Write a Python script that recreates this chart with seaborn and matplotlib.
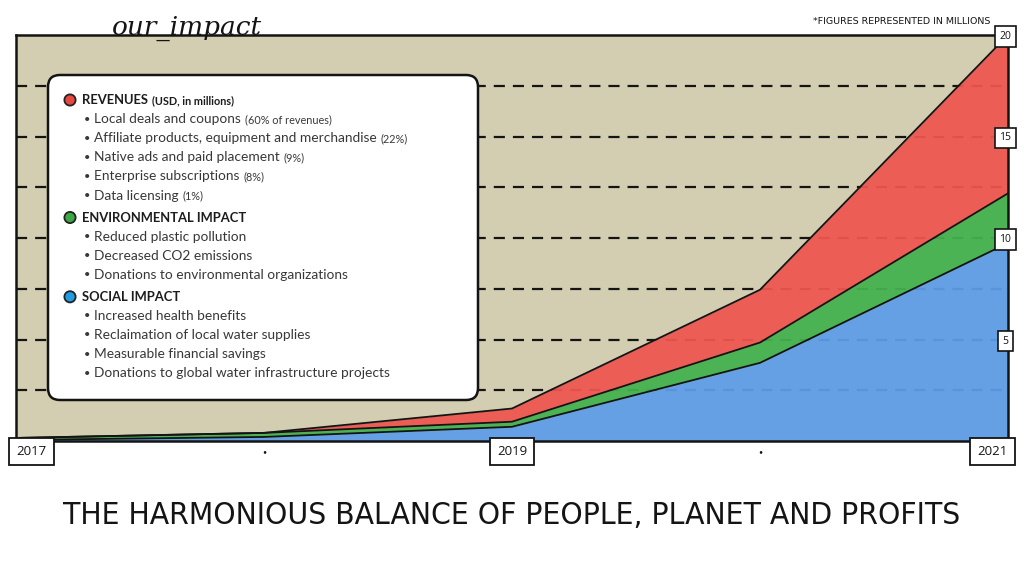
import numpy as np
import pandas as pd
import matplotlib
matplotlib.use("Agg")
import matplotlib.pyplot as plt
import seaborn as sns
from matplotlib.patches import FancyBboxPatch, Circle

# ---------------- data ----------------
years = [2017, 2018, 2019, 2020, 2021]
social = [0.05, 0.2, 0.7, 3.85, 9.75]
environmental = [0.1, 0.2, 0.25, 1.0, 2.45]
revenues = [0.0, 0.0, 0.65, 2.6, 7.8]

x_major = [2017, 2019, 2021]
x_major_labels = ["2017", "2019", "2021"]
x_minor = [2018, 2020]
y_ticks = [5, 10, 15, 20]
y_tick_labels = ["5", "10", "15", "20"]
grid_levels = [2.5, 5, 7.5, 10, 12.5, 15, 17.5]

title_top = "our_impact"
note_top = "*FIGURES REPRESENTED IN MILLIONS"
title_bottom = "THE HARMONIOUS BALANCE OF PEOPLE, PLANET AND PROFITS"

revenue_head = "REVENUES"
revenue_sub = " (USD, in millions)"
revenue_items = ["Local deals and coupons",
                 "Affiliate products, equipment and merchandise",
                 "Native ads and paid placement",
                 "Enterprise subscriptions",
                 "Data licensing"]
revenue_notes = ["(60% of revenues)", "(22%)", "(9%)", "(8%)", "(1%)"]
env_head = "ENVIRONMENTAL IMPACT"
env_items = ["Reduced plastic pollution",
             "Decreased CO2 emissions",
             "Donations to environmental organizations"]
social_head = "SOCIAL IMPACT"
social_items = ["Increased health benefits",
                "Reclaimation of local water supplies",
                "Measurable financial savings",
                "Donations to global water infrastructure projects"]

# ---------------- style ----------------
BG = "#d3ceb1"
RED = "#ee564f"
GREEN = "#43b24e"
BLUE = "#5e9de9"
LEG_RED = "#e8473f"
LEG_GREEN = "#3aa845"
LEG_BLUE = "#1f9de3"
INK = "#141414"

sns.set_theme(style="white")
plt.rcParams["font.family"] = ["Lato", "DejaVu Sans"]

fig = plt.figure(figsize=(10.24, 5.76), dpi=100)
fig.patch.set_facecolor("white")
ax = fig.add_axes([16 / 1024, 1 - 441 / 576, 992 / 1024, 406 / 576])
ax.set_facecolor(BG)

df = pd.DataFrame({"year": years, "social": social,
                   "environmental": environmental, "revenues": revenues})
df["social_top"] = df["social"]
df["env_top"] = df["social_top"] + df["environmental"]
df["rev_top"] = df["env_top"] + df["revenues"]

for g in grid_levels:
    ax.axhline(g, color=INK, lw=1.6, ls=(0, (5, 3.6)), zorder=1)

ax.fill_between(df["year"], 0, df["social_top"], color=BLUE, alpha=0.94, lw=0, zorder=2)
ax.fill_between(df["year"], df["social_top"], df["env_top"], color=GREEN, alpha=0.94, lw=0, zorder=2)
ax.fill_between(df["year"], df["env_top"], df["rev_top"], color=RED, alpha=0.94, lw=0, zorder=2)
for col in ["social_top", "env_top", "rev_top"]:
    sns.lineplot(data=df, x="year", y=col, color=INK, lw=1.3, ax=ax, zorder=3)

ax.set_xlabel("")
ax.set_ylabel("")
ax.set_xlim(2017, 2021)
ax.set_ylim(0, 20)
for s in ax.spines.values():
    s.set_color(INK)
    s.set_linewidth(1.8)
    s.set_zorder(4)

ax.set_xticks(x_major)
ax.set_xticklabels(x_major_labels)
ax.set_xticks(x_minor, minor=True)
ax.set_xticklabels(["•", "•"], minor=True)
ax.tick_params(axis="x", which="major", length=0, pad=3, labelsize=9.5, labelcolor=INK)
ax.tick_params(axis="x", which="minor", length=0, pad=5, labelsize=5, labelcolor=INK)
xl = ax.get_xticklabels()
for i, lbl in enumerate(xl):
    lbl.set_bbox(dict(boxstyle="square,pad=0.55", fc="white", ec=INK, lw=1.3))
    lbl.set_fontfamily(["Open Sans", "DejaVu Sans"])
xl[0].set_ha("left")
xl[-1].set_ha("right")

ax.yaxis.tick_right()
ax.set_yticks(y_ticks)
ax.set_yticklabels(y_tick_labels)
ax.tick_params(axis="y", length=0, pad=-2, labelsize=7.5, labelcolor=INK)
for lbl in ax.get_yticklabels():
    lbl.set_ha("center")
    lbl.set_bbox(dict(boxstyle="square,pad=0.45", fc="white", ec=INK, lw=1.2))
    lbl.set_fontfamily(["Open Sans", "DejaVu Sans"])
ax.grid(False)
ax.xaxis.set_zorder(6)
ax.yaxis.set_zorder(6)

# ---------------- overlay in pixel coordinates ----------------
ov = fig.add_axes([0, 0, 1, 1], zorder=5)
ov.set_xlim(0, 1024)
ov.set_ylim(576, 0)
ov.axis("off")

ov.text(112, 28, title_top, fontsize=19, style="italic",
        family=["DejaVu Serif", "DejaVu Sans"], color=INK, ha="left", va="center")
ov.text(990, 22, note_top, fontsize=6.8, color=INK, ha="right", va="center",
        family=["DejaVu Sans"])

box = FancyBboxPatch((48, 75), 430, 325, boxstyle="round,pad=0,rounding_size=12",
                     fc="white", ec=INK, lw=1.8, zorder=1)
ov.add_patch(box)

HEAD_FS = 9.4
SUB_FS = 7.8
ITEM_FS = 9.9
NOTE_FS = 7.8
TXT = "#383838"


def heading(y, color, head, sub=None):
    ov.add_patch(Circle((70, y), 5.6, fc=color, ec="#222222", lw=1.3, zorder=3))
    t = ov.text(82, y, head, fontsize=HEAD_FS, fontweight="bold", color="#1c1c1c",
                ha="left", va="center", zorder=3)
    if sub:
        ov.annotate(sub, xy=(1, 0), xycoords=t, xytext=(3, 0), textcoords="offset points",
                    fontsize=SUB_FS, fontweight="bold",
                    color="#1c1c1c", ha="left", va="bottom", zorder=3)


def bullet(y, item, note=None):
    ov.text(87, y, "•", fontsize=8, color=TXT, ha="center", va="center", zorder=3)
    t = ov.text(94, y, item, fontsize=ITEM_FS, color=TXT, ha="left", va="center", zorder=3)
    if note:
        ov.annotate(note, xy=(1, 0), xycoords=t, xytext=(3, 0), textcoords="offset points",
                    fontsize=NOTE_FS, color=TXT, ha="left", va="bottom", zorder=3)


y = 100
heading(y, LEG_RED, revenue_head, revenue_sub.strip())
for item, note in zip(revenue_items, revenue_notes):
    y += 19.1
    bullet(y, item, note)
y += 22
heading(y, LEG_GREEN, env_head)
for item in env_items:
    y += 19.1
    bullet(y, item)
y += 22
heading(y, LEG_BLUE, social_head)
for item in social_items:
    y += 19.1
    bullet(y, item)

# bottom title, fitted to width
bt = ov.text(512, 515, title_bottom, fontsize=40, color=INK, ha="center", va="center",
             family=["DejaVu Sans"], fontstretch="condensed", fontweight="light")
fig.canvas.draw()
w = bt.get_window_extent().width
if w > 0:
    bt.set_fontsize(min(48, 40 * 895 / w))

fig.savefig("out.png", dpi=100, facecolor="white")
